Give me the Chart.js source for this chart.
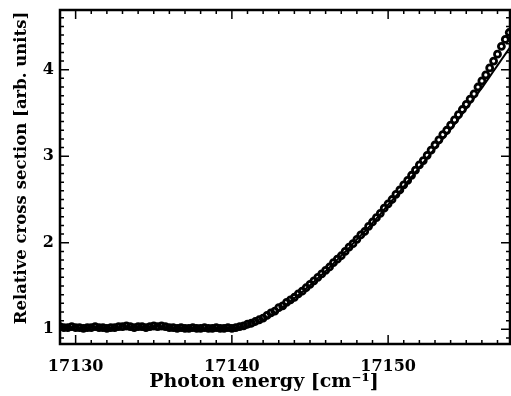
<!DOCTYPE html>
<html>
<head>
<meta charset="utf-8">
<script src="https://cdn.jsdelivr.net/npm/chart.js@4/dist/chart.umd.min.js"></script>
<style>
  html, body { margin: 0; padding: 0; background: #fff; }
  #wrap { width: 511px; height: 396px; }
</style>
</head>
<body>
<div id="wrap"><canvas id="xsChart" width="511" height="396"></canvas></div>
<script>
// measured points (open circles)
const energy = [
  17129.00, 17129.25, 17129.50, 17129.75, 17130.00, 17130.25, 17130.50, 17130.75,
  17131.00, 17131.25, 17131.50, 17131.75, 17132.00, 17132.25, 17132.50, 17132.75,
  17133.00, 17133.25, 17133.50, 17133.75, 17134.00, 17134.25, 17134.50, 17134.75,
  17135.00, 17135.25, 17135.50, 17135.75, 17136.00, 17136.25, 17136.50, 17136.75,
  17137.00, 17137.25, 17137.50, 17137.75, 17138.00, 17138.25, 17138.50, 17138.75,
  17139.00, 17139.25, 17139.50, 17139.75, 17140.00, 17140.25, 17140.50, 17140.75,
  17141.00, 17141.25, 17141.50, 17141.75, 17142.00, 17142.25, 17142.50, 17142.75,
  17143.00, 17143.25, 17143.50, 17143.75, 17144.00, 17144.25, 17144.50, 17144.75,
  17145.00, 17145.25, 17145.50, 17145.75, 17146.00, 17146.25, 17146.50, 17146.75,
  17147.00, 17147.25, 17147.50, 17147.75, 17148.00, 17148.25, 17148.50, 17148.75,
  17149.00, 17149.25, 17149.50, 17149.75, 17150.00, 17150.25, 17150.50, 17150.75,
  17151.00, 17151.25, 17151.50, 17151.75, 17152.00, 17152.25, 17152.50, 17152.75,
  17153.00, 17153.25, 17153.50, 17153.75, 17154.00, 17154.25, 17154.50, 17154.75,
  17155.00, 17155.25, 17155.50, 17155.75, 17156.00, 17156.25, 17156.50, 17156.75,
  17157.00, 17157.25, 17157.50, 17157.75
];
const crossSection = [
  1.03, 1.02, 1.02, 1.03, 1.02, 1.02, 1.01, 1.02,
  1.02, 1.03, 1.02, 1.02, 1.01, 1.02, 1.02, 1.03,
  1.03, 1.04, 1.03, 1.02, 1.03, 1.03, 1.02, 1.03,
  1.04, 1.03, 1.04, 1.03, 1.02, 1.02, 1.01, 1.02,
  1.01, 1.01, 1.02, 1.01, 1.01, 1.02, 1.01, 1.01,
  1.02, 1.01, 1.01, 1.02, 1.01, 1.02, 1.03, 1.04,
  1.06, 1.07, 1.09, 1.11, 1.13, 1.16, 1.19, 1.21,
  1.25, 1.27, 1.31, 1.34, 1.37, 1.41, 1.44, 1.48,
  1.52, 1.56, 1.60, 1.64, 1.68, 1.72, 1.77, 1.81,
  1.85, 1.90, 1.95, 1.99, 2.04, 2.09, 2.13, 2.19,
  2.24, 2.29, 2.34, 2.40, 2.45, 2.50, 2.56, 2.61,
  2.67, 2.72, 2.78, 2.84, 2.90, 2.95, 3.01, 3.07,
  3.13, 3.19, 3.25, 3.30, 3.36, 3.42, 3.48, 3.54,
  3.60, 3.66, 3.72, 3.80, 3.87, 3.94, 4.02, 4.10,
  4.18, 4.27, 4.35, 4.43
];

// fitted curve (solid line)
const fitEnergy = [
  17129, 17132, 17135, 17138, 17140, 17140.5, 17141, 17141.5, 17142, 17142.5,
  17143, 17143.5, 17144, 17144.5, 17145, 17145.5, 17146, 17146.5, 17147, 17147.5,
  17148, 17148.5, 17149, 17149.5, 17150, 17150.5, 17151, 17151.5, 17152, 17152.5,
  17153, 17153.5, 17154, 17154.5, 17155, 17155.5, 17156, 17156.5, 17157, 17157.5, 17158
];
const fitValue = [
  1.00, 1.00, 1.00, 1.00, 1.00, 1.00, 1.02, 1.06, 1.11, 1.16,
  1.22, 1.29, 1.36, 1.43, 1.51, 1.59, 1.67, 1.76, 1.85, 1.94,
  2.04, 2.13, 2.23, 2.33, 2.44, 2.54, 2.65, 2.76, 2.87, 2.98,
  3.09, 3.20, 3.31, 3.43, 3.55, 3.67, 3.79, 3.92, 4.05, 4.18, 4.31
];

const xTickValues = [17130, 17140, 17150];
const yTickValues = [1, 2, 3, 4];
const xTitle = 'Photon energy [cm⁻¹]';
const yTitle = 'Relative cross section [arb. units]';

const tickFont = { family: 'DejaVu Serif', size: 16, weight: 'bold' };

// frame with inward ticks on all four sides + axis titles
const frameTicks = {
  id: 'frameTicks',
  afterDatasetsDraw(chart) {
    const { ctx, chartArea: a, scales: { x, y } } = chart;
    ctx.save();
    ctx.strokeStyle = '#000';
    ctx.lineWidth = 1.5;
    ctx.beginPath();
    for (let v = Math.ceil(x.min); v <= x.max; v++) {
      const px = x.getPixelForValue(v);
      const len = xTickValues.includes(v) ? 9 : 4;
      ctx.moveTo(px, a.bottom); ctx.lineTo(px, a.bottom - len);
      ctx.moveTo(px, a.top); ctx.lineTo(px, a.top + len);
    }
    for (let k = Math.ceil(y.min * 10); k <= y.max * 10; k++) {
      const py = y.getPixelForValue(k / 10);
      const len = k % 10 === 0 ? 9 : 4;
      ctx.moveTo(a.left, py); ctx.lineTo(a.left + len, py);
      ctx.moveTo(a.right, py); ctx.lineTo(a.right - len, py);
    }
    ctx.stroke();
    ctx.lineWidth = 2.5;
    ctx.strokeRect(a.left, a.top, a.right - a.left, a.bottom - a.top);

    // axis titles
    ctx.fillStyle = '#000';
    ctx.textAlign = 'center';
    ctx.textBaseline = 'alphabetic';
    ctx.font = 'bold 19px "DejaVu Serif"';
    ctx.fillText(xTitle, 264, 387);
    ctx.translate(26, 168);
    ctx.rotate(-Math.PI / 2);
    ctx.font = 'bold 16.5px "DejaVu Serif"';
    ctx.fillText(yTitle, 0, 0);
    ctx.restore();
  }
};

const ctx = document.getElementById('xsChart').getContext('2d');
const xsChart = new Chart(ctx, {
  type: 'scatter',
  data: {
    datasets: [
      {
        label: 'fit',
        data: fitEnergy.map((e, i) => ({ x: e, y: fitValue[i] })),
        showLine: true,
        borderColor: '#000',
        borderWidth: 2,
        pointRadius: 0,
        tension: 0.3
      },
      {
        label: 'data',
        data: energy.map((e, i) => ({ x: e, y: crossSection[i] })),
        showLine: false,
        pointRadius: 3,
        pointBorderWidth: 2.8,
        pointBorderColor: '#000',
        pointBackgroundColor: 'rgba(0,0,0,0)'
      }
    ]
  },
  options: {
    responsive: false,
    animation: false,
    layout: { autoPadding: false, padding: { top: 10, right: 1, left: 0, bottom: 0 } },
    plugins: {
      legend: { display: false },
      tooltip: { enabled: false }
    },
    scales: {
      x: {
        type: 'linear',
        min: 17129.0,
        max: 17157.8,
        afterFit: s => { s.height = 52; s.paddingLeft = 0; s.paddingRight = 0; },
        afterBuildTicks: s => { s.ticks = xTickValues.map(v => ({ value: v })); },
        grid: { display: false, drawTicks: false },
        border: { display: false },
        ticks: {
          color: '#000',
          font: tickFont,
          padding: 13,
          maxRotation: 0,
          callback: v => String(v)
        }
      },
      y: {
        type: 'linear',
        min: 0.83,
        max: 4.69,
        afterFit: s => { s.width = 60; s.paddingTop = 0; s.paddingBottom = 0; },
        afterBuildTicks: s => { s.ticks = yTickValues.map(v => ({ value: v })); },
        grid: { display: false, drawTicks: false },
        border: { display: false },
        ticks: {
          color: '#000',
          font: tickFont,
          padding: 6,
          callback: v => String(v)
        }
      }
    }
  },
  plugins: [frameTicks]
});
</script>
</body>
</html>
